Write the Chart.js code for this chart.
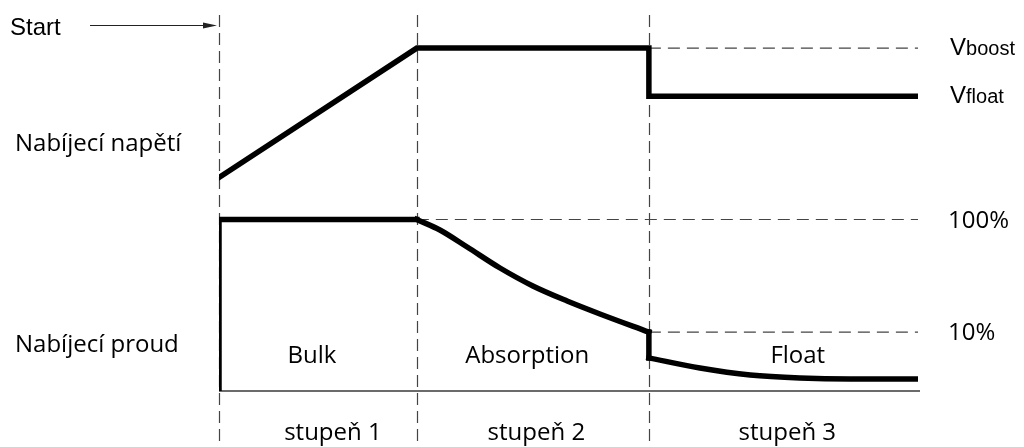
<!DOCTYPE html>
<html>
<head>
<meta charset="utf-8">
<script src="https://cdn.jsdelivr.net/npm/chart.js@4"></script>
<style>
  html, body { margin: 0; padding: 0; background: #fff; }
  #wrap { width: 1024px; height: 447px; position: relative; }
</style>
</head>
<body>
<div id="wrap"><canvas id="c" width="1024" height="447"></canvas></div>
<script>
// ---- data (time in % of the charge cycle) ----
const stageBounds = [0, 28.3, 61.5, 100];
const stageNames = ['stupeň 1', 'stupeň 2', 'stupeň 3'];
const phaseNames = ['Bulk', 'Absorption', 'Float'];

// charging voltage [V]
const V_BOOST = 14.4;
const V_FLOAT = 13.6;
const voltT = [0, 28.3, 61.5, 61.5, 100];
const voltV = [12.25, 14.4, 14.4, 13.6, 13.6];

// charging current [% of max]
const bulkT = [0, 0, 28.3];
const bulkI = [3, 100, 100];
const absT = [28.3, 31.6, 35.5, 40.2, 44.9, 49.8, 54.5, 61.5];
const absI = [100, 80.7, 57.0, 37.1, 25.7, 18.9, 14.5, 10];
const dropT = [61.5, 61.5];
const dropI = [10, 5.9];
const floatT = [61.5, 68.8, 76.0, 83.1, 90.3, 100];
const floatI = [5.9, 4.8, 4.16, 3.91, 3.83, 3.83];

const I_LEVELS = [100, 10];
const I_LABELS = ['100%', '10%'];

// ---- layout (not data) ----
const phaseLabelT = [13.3, 44.1, 82.8];
const stageLabelT = [16.3, 45.4, 81.3];

const pts = (xs, ys) => xs.map((x, i) => ({ x: x, y: ys[i] }));

const solid = (data, axis, extra) => Object.assign({
  data: data, yAxisID: axis, borderColor: '#000', borderWidth: 5.5,
  pointRadius: 0, tension: 0, borderCapStyle: 'square', borderJoinStyle: 'miter', fill: false
}, extra || {});
const dashed = (data, axis) => ({
  data: data, yAxisID: axis, borderColor: '#444', borderWidth: 1.2,
  borderDash: [12, 7], pointRadius: 0, tension: 0, fill: false
});

const overlay = {
  id: 'overlay',
  beforeDatasetsDraw(chart) {
    const { ctx, chartArea: a, scales: { x } } = chart;
    ctx.save();
    ctx.strokeStyle = '#444';
    ctx.lineWidth = 1.2;
    ctx.setLineDash([12, 6]);
    stageBounds.slice(0, 3).forEach(t => {
      const px = Math.round(x.getPixelForValue(t)) + 0.5;
      ctx.beginPath(); ctx.moveTo(px, 15); ctx.lineTo(px, chart.height); ctx.stroke();
    });
    ctx.setLineDash([]);
    ctx.strokeStyle = '#6b6b6b';
    ctx.lineWidth = 2;
    ctx.beginPath(); ctx.moveTo(a.left, a.bottom); ctx.lineTo(a.right + 2, a.bottom); ctx.stroke();
    ctx.restore();
  },
  afterDraw(chart) {
    const { ctx, chartArea: a, scales: { x, yV, yI } } = chart;
    ctx.save();
    ctx.fillStyle = '#000';
    ctx.textBaseline = 'alphabetic';
    const sans = '"Open Sans", "Noto Sans", sans-serif';
    const arial = '"Liberation Sans", Arial, sans-serif';

    // Start + arrow
    ctx.font = '24px ' + arial;
    ctx.textAlign = 'left';
    ctx.fillText('Start', 10, 35);
    ctx.strokeStyle = '#222'; ctx.lineWidth = 1;
    ctx.fillStyle = '#222';
    const ax = x.getPixelForValue(0) - 2;
    ctx.beginPath(); ctx.moveTo(90, 25.5); ctx.lineTo(ax - 10, 25.5); ctx.stroke();
    ctx.beginPath(); ctx.moveTo(ax, 25.5); ctx.lineTo(ax - 14, 22.5); ctx.lineTo(ax - 14, 28.5); ctx.closePath(); ctx.fill();
    ctx.fillStyle = '#000';

    // left labels
    ctx.font = '24px ' + sans;
    ctx.fillText('Nabíjecí napětí', 15, 151);
    ctx.fillText('Nabíjecí proud', 15, 352);

    // phase names and stage names
    ctx.textAlign = 'center';
    phaseNames.forEach((n, i) => ctx.fillText(n, x.getPixelForValue(phaseLabelT[i]), a.bottom - 28));
    stageNames.forEach((n, i) => ctx.fillText(n, x.getPixelForValue(stageLabelT[i]), a.bottom + 49));

    // right labels
    ctx.textAlign = 'left';
    const rx = a.right + 32;
    I_LEVELS.forEach((v, i) => ctx.fillText(I_LABELS[i], rx - 2, yI.getPixelForValue(v) + 8));
    const vLabel = (sub, val) => {
      const yb = yV.getPixelForValue(val) + 7;
      ctx.font = '24px ' + arial;
      ctx.fillText('V', rx, yb);
      const w = ctx.measureText('V').width;
      ctx.font = '20px ' + arial;
      ctx.fillText(sub, rx + w, yb);
    };
    vLabel('boost', V_BOOST);
    vLabel('float', V_FLOAT);
    ctx.restore();
  }
};

new Chart(document.getElementById('c'), {
  type: 'line',
  data: {
    datasets: [
      solid(pts(voltT, voltV), 'yV'),
      solid(pts(bulkT, bulkI), 'yI'),
      solid(pts(absT, absI), 'yI', { cubicInterpolationMode: 'monotone', tension: 0.4 }),
      solid(pts(dropT, dropI), 'yI'),
      solid(pts(floatT, floatI), 'yI', { cubicInterpolationMode: 'monotone', tension: 0.4 }),
      dashed(pts([61.5, 100], [V_BOOST, V_BOOST]), 'yV'),
      dashed(pts([28.3, 100], [100, 100]), 'yI'),
      dashed(pts([61.5, 100], [10, 10]), 'yI')
    ]
  },
  options: {
    responsive: false,
    animation: false,
    layout: { padding: { left: 219, right: 106, top: 0, bottom: 56 } },
    plugins: { legend: { display: false }, tooltip: { enabled: false } },
    scales: {
      x: { type: 'linear', min: 0, max: 100, display: false },
      yV: { type: 'linear', min: 8.7, max: 15.2, display: false },
      yI: { type: 'logarithmic', min: 3, max: 8900, display: false }
    }
  },
  plugins: [overlay]
});
</script>
</body>
</html>
